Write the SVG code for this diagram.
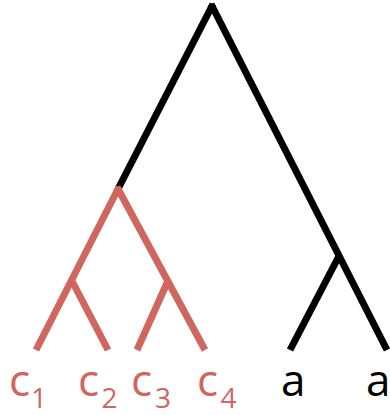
<svg xmlns="http://www.w3.org/2000/svg" width="390" height="415" viewBox="0 0 390 415">
<style>
.b{stroke:#000;stroke-width:7;fill:none}
.r{stroke:#CF6760;stroke-width:7;fill:none}
.t{font-family:"Open Sans","Liberation Sans",Arial,sans-serif;font-size:44px}
.s{font-family:"Open Sans","Liberation Sans",Arial,sans-serif;font-size:28px;text-anchor:middle}
.tr{fill:#CF6760}
.tb{fill:#000}
</style>
<rect width="390" height="415" fill="#fff"/>
<g id="connectors">
<line class="b" x1="213" y1="4" x2="118" y2="189"/>
<line class="b" x1="211" y1="4" x2="387" y2="350"/>
<line class="b" x1="339" y1="256" x2="290" y2="350"/>
<line class="r" x1="119" y1="187" x2="36" y2="350"/>
<line class="r" x1="117" y1="187" x2="205" y2="350"/>
<line class="r" x1="72" y1="281" x2="108" y2="350"/>
<line class="r" x1="167" y1="283" x2="137" y2="350"/>
</g>
<g id="c1"><text class="t tr" x="9" y="396">c</text><text class="s tr" x="39" y="408">1</text></g>
<g id="c2"><text class="t tr" x="78" y="396">c</text><text class="s tr" x="109.5" y="408">2</text></g>
<g id="c3"><text class="t tr" x="131" y="396">c</text><text class="s tr" x="163" y="408">3</text></g>
<g id="c4"><text class="t tr" x="197" y="396">c</text><text class="s tr" x="228.5" y="408">4</text></g>
<g id="a1"><text class="t tb" x="281" y="396">a</text></g>
<g id="a2"><text class="t tb" x="366" y="396">a</text></g>
</svg>
